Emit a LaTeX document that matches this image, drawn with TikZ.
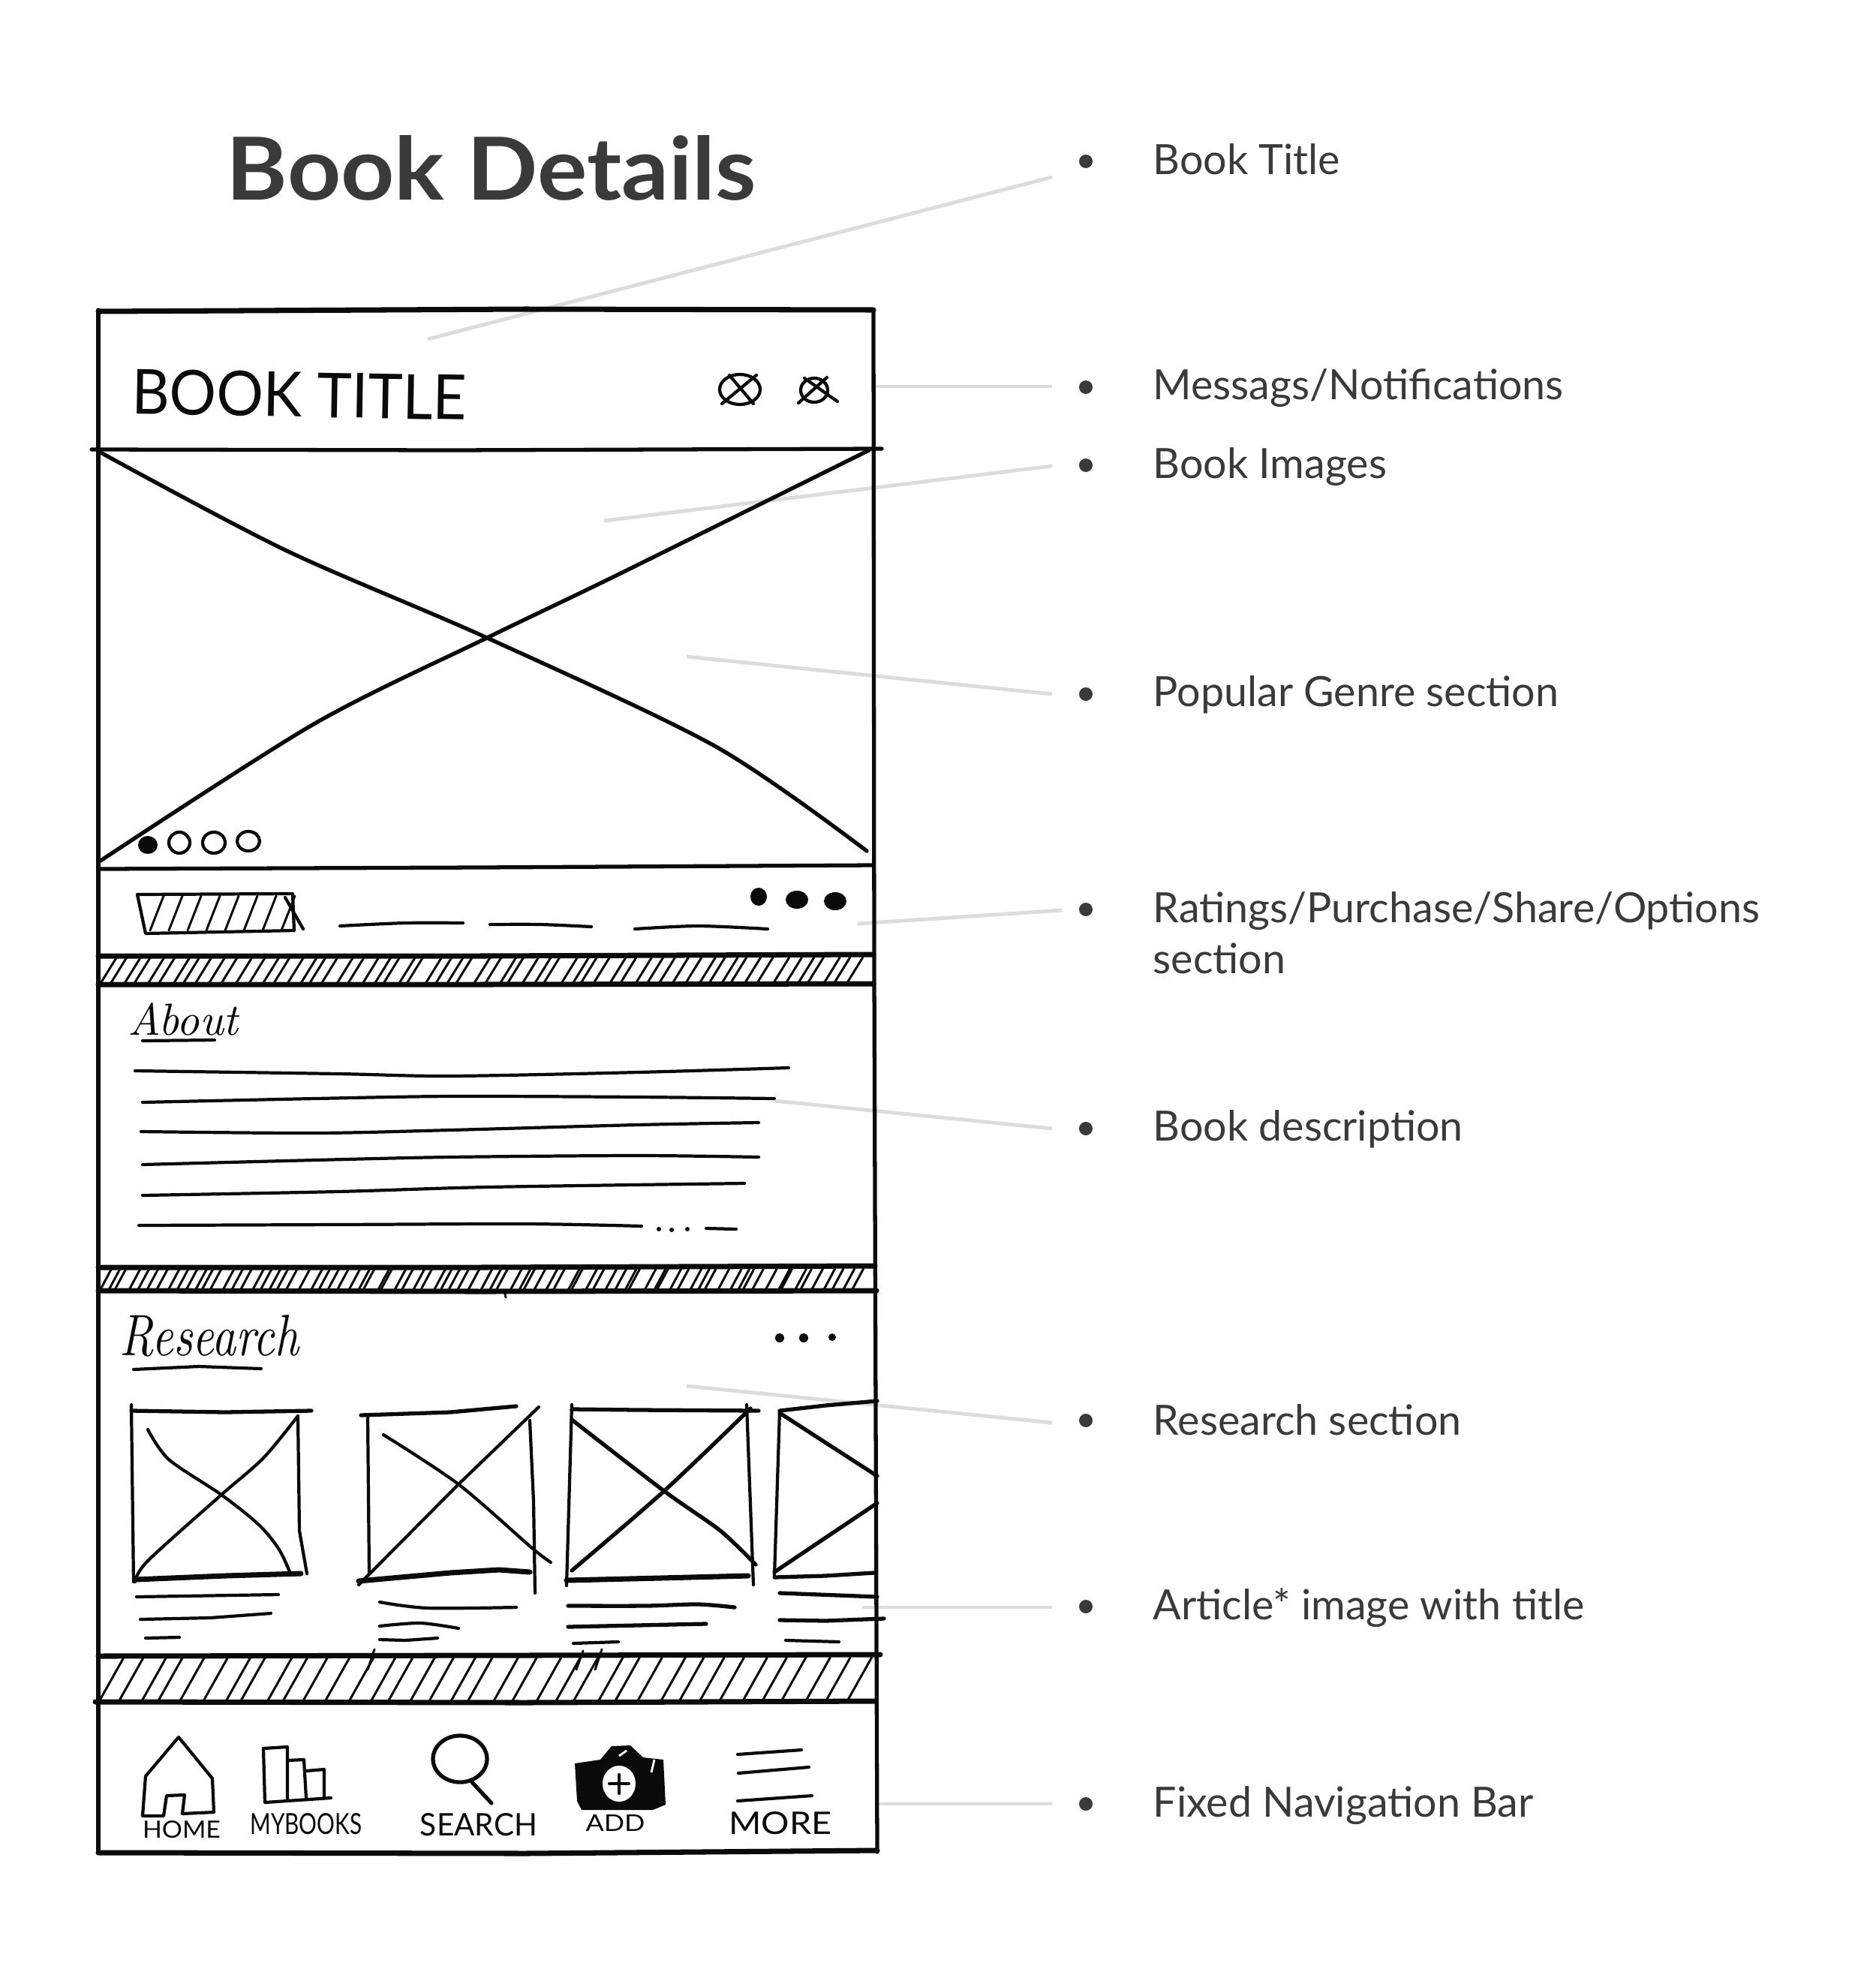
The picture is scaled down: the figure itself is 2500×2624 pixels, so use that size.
\documentclass[tikz,border=0pt]{standalone}
\usepackage{fontspec}
\usepackage{xcolor}
\newfontfamily\labelfont{Lato}
\newfontfamily\sketchfont{Lato}
\definecolor{cInk}{HTML}{0A0A0A}
\definecolor{cText}{HTML}{3A3A3A}
\definecolor{cLeader}{HTML}{DCDCDC}
\usetikzlibrary{calc}
\newdimen\pxu \pxu=0.01cm
\newcommand{\handtext}[3]{\resizebox{#1\pxu}{#2\pxu}{#3}}
\tikzset{
  frame-line/.style={draw=cInk,line width=1.5pt,line cap=round,line join=round},
  bold-line/.style={draw=cInk,line width=2pt,line cap=round,line join=round},
  pen-line/.style={draw=cInk,line width=1.2pt,line cap=round,line join=round},
  hatch-line/.style={draw=cInk,line width=0.85pt,line cap=round},
  leader/.style={draw=cLeader,line width=1.4pt},
  bullet-dot/.style={circle,fill=cText,inner sep=0pt,minimum size=18\pxu},
  item-label/.style={anchor=west,inner sep=0pt,text=cText,font=\labelfont\fontsize{15.8}{20}\selectfont},
  hand-label/.style={inner sep=0pt,text=cInk,font=\sketchfont},
}

\begin{document}
\begin{tikzpicture}[x=0.01cm,y=-0.01cm]
  \useasboundingbox (0,0) rectangle (2500,2624);
  \pgfmathsetseed{11}

  % bullets, labels and leaders
  \node[anchor=center,inner sep=0pt,text=cText,font=\labelfont\bfseries\fontsize{33}{36}\selectfont] (pageTitle) at (655,224) {\handtext{706}{86}{Book Details}};

  \node[bullet-dot] (dotTitle) at (1447,215) {};
  \node[bullet-dot] (dotMsg) at (1447,516) {};
  \node[bullet-dot] (dotImages) at (1447,620) {};
  \node[bullet-dot] (dotGenre) at (1447,925) {};
  \node[bullet-dot] (dotRatings) at (1447,1212) {};
  \node[bullet-dot] (dotDesc) at (1447,1504) {};
  \node[bullet-dot] (dotResearch) at (1447,1893) {};
  \node[bullet-dot] (dotArticle) at (1447,2141) {};
  \node[bullet-dot] (dotNav) at (1447,2404) {};

  \node[item-label] (lblTitle) at (1536,212) {Book Title};
  \node[item-label] (lblMsg) at (1536,517) {Messags/Notifications};
  \node[item-label] (lblImages) at (1536,622) {Book Images};
  \node[item-label] (lblGenre) at (1536,926) {Popular Genre section};
  \node[item-label] (lblRatings) at (1536,1214) {Ratings/Purchase/Share/Options};
  \node[item-label] (lblRatingsTwo) at (1536,1277) {section};
  \node[item-label] (lblDesc) at (1536,1505) {Book description};
  \node[item-label] (lblResearch) at (1536,1892) {Research section};
  \node[item-label] (lblArticle) at (1536,2143) {Article* image with title};
  \node[item-label] (lblNav) at (1536,2406) {Fixed Navigation Bar};

  \coordinate (endTitle) at (1402,236);
  \coordinate (tipTitle) at (570,452);
  \coordinate (endMsg) at (1402,515);
  \coordinate (tipMsg) at (1165,515);
  \coordinate (endImages) at (1402,621);
  \coordinate (tipImages) at (805,694);
  \coordinate (endGenre) at (1402,925);
  \coordinate (tipGenre) at (915,875);
  \coordinate (endRatings) at (1415,1213);
  \coordinate (tipRatings) at (1143,1231);
  \coordinate (endDesc) at (1402,1504);
  \coordinate (tipDesc) at (1032,1467);
  \coordinate (endResearch) at (1402,1896);
  \coordinate (tipResearch) at (915,1847);
  \coordinate (endArticle) at (1402,2142);
  \coordinate (tipArticle) at (1149,2142);
  \coordinate (endNav) at (1402,2404);
  \coordinate (tipNav) at (1171,2404);
  \foreach \nm in {Title,Msg,Images,Genre,Ratings,Desc,Research,Article,Nav}
    \draw[leader] (end\nm) -- (tip\nm);

  % phone outline and bars
  \draw[bold-line] (131,415) -- (700,412) -- (1164,413);
  \draw[frame-line] (131,413) -- (131,2468);
  \draw[frame-line] (1164,413) -- (1165,1300) -- (1169,2468);
  \draw[bold-line] (131,2469) -- (700,2470) -- (1169,2466);
  \draw[frame-line] (122,599) -- (600,600) -- (1175,598);
  \draw[frame-line] (134,1158) -- (640,1156) -- (1164,1153);

  % header
  \node[hand-label,rotate=-1] (bookTitle) at (399,526) {\handtext{446}{60}{BOOK TITLE}};
  \draw[pen-line] (986,519) ellipse (27 and 20);
  \draw[pen-line] (962,538) -- (1008,500) (972,500) -- (1004,538);
  \draw[pen-line] (1085,520) ellipse (18 and 16);
  \draw[pen-line] (1064,537) -- (1102,503) (1072,504) -- (1116,535);

  % big image cross
  \draw[frame-line] plot[smooth] coordinates {(134,603) (380,733) (649,850) (954,995) (1155,1134)};
  \draw[frame-line] plot[smooth] coordinates {(1158,600) (821,767) (649,850) (418,965) (134,1147)};
  \fill[cInk] (197,1126) ellipse (13 and 12);
  \draw[pen-line] (239,1123) ellipse (14 and 14);
  \draw[pen-line] (285,1123) ellipse (15 and 14);
  \draw[pen-line] (331,1121) ellipse (15 and 13);

  % ratings row
  \draw[pen-line] (183,1192) -- (390,1191) -- (392,1240) -- (194,1244) -- cycle;
  \draw[pen-line] (380,1196) -- (404,1238);
  \foreach \i in {0,...,7}
    \draw[hatch-line] (218+\i*25,1194) -- (200+\i*25,1240);
  \draw[pen-line] plot[smooth] coordinates {(453,1234) (540,1230) (617,1230)};
  \draw[pen-line] plot[smooth] coordinates {(653,1232) (720,1232) (788,1235)};
  \draw[pen-line] plot[smooth] coordinates {(846,1238) (930,1234) (1023,1238)};
  \fill[cInk] (1011,1195) ellipse (11 and 12);
  \fill[cInk] (1062,1199) ellipse (15 and 12);
  \fill[cInk] (1113,1201) ellipse (15 and 12);

  % first divider
  \draw[bold-line] (131,1274) -- (640,1274) -- (1164,1272);
  \draw[bold-line] (131,1312) -- (640,1312) -- (1164,1311);
  \foreach \i [evaluate=\i as \hx using {152+\i*16.6+5*rand}] in {0,...,60}
    \draw[hatch-line] (\hx,1276) -- (\hx-21,1310);

  % about block
  \node[hand-label,font=\itshape] (aboutLabel) at (244,1358) {\handtext{147}{43}{About}};
  \draw[pen-line] (190,1387) -- (286,1386);
  \draw[pen-line] plot[smooth] coordinates {(180,1427) (450,1431) (600,1434) (850,1429) (1051,1423)};
  \draw[pen-line] plot[smooth] coordinates {(190,1469) (420,1464) (600,1461) (850,1462) (1032,1464)};
  \draw[pen-line] plot[smooth] coordinates {(188,1508) (420,1510) (600,1506) (850,1499) (1011,1496)};
  \draw[pen-line] plot[smooth] coordinates {(190,1552) (420,1546) (600,1542) (850,1540) (1011,1542)};
  \draw[pen-line] plot[smooth] coordinates {(190,1593) (450,1588) (650,1582) (992,1577)};
  \draw[pen-line] plot[smooth] coordinates {(185,1633) (450,1632) (700,1631) (855,1634)};
  \fill[cInk] (878,1638) circle (3) (895,1639) circle (3) (916,1638) circle (3);
  \draw[pen-line] (941,1637) -- (981,1638);

  % second divider
  \draw[bold-line] (131,1689) -- (640,1689) -- (1166,1687);
  \draw[bold-line] (131,1720) -- (640,1721) -- (1168,1720);
  \foreach \i [evaluate=\i as \hx using {146+\i*12.7+5*rand}] in {0,...,79}
    \draw[hatch-line] (\hx,1691) -- (\hx-15,1719);
  \draw[hatch-line] (672,1720) -- (674,1729);

  % research block
  \node[hand-label,font=\itshape] (researchLabel) at (279,1780) {\handtext{238}{54}{Research}};
  \draw[pen-line] (178,1825) -- (265,1821) -- (348,1824);
  \fill[cInk] (1039,1783) circle (6) (1071,1783) circle (6) (1109,1782) circle (5);

  % thumbnail 1
  \draw[pen-line] (175,1872) -- (178,2108);
  \draw[frame-line] (175,1880) -- (300,1882) -- (415,1880);
  \draw[pen-line] (397,1887) -- (399,2040) -- (409,2097);
  \draw[bold-line] (180,2105) -- (300,2100) -- (401,2097);
  \draw[pen-line] plot[smooth] coordinates {(197,1905) (225,1945) (295,1992) (345,2032) (372,2065) (387,2097)};
  \draw[pen-line] plot[smooth] coordinates {(180,2108) (197,2080) (295,1992) (351,1943) (397,1887)};
  \draw[pen-line] (182,2128) -- (371,2125);
  \draw[pen-line] (187,2158) -- (280,2156) -- (361,2150);
  \draw[pen-line] (194,2183) -- (239,2182);

  % thumbnail 2
  \draw[pen-line] (490,1887) -- (492,2097);
  \draw[frame-line] (481,1886) -- (600,1882) -- (688,1874);
  \draw[pen-line] (706,1893) -- (711,2000) -- (713,2123);
  \draw[bold-line] (478,2107) -- (600,2096) -- (665,2092) -- (706,2095);
  \draw[pen-line] (478,2112) -- (611,1978) -- (718,1875);
  \draw[pen-line] plot[smooth] coordinates {(511,1912) (611,1978) (709,2063) (734,2082)};
  \draw[pen-line] plot[smooth] coordinates {(506,2135) (570,2143) (688,2142)};
  \draw[pen-line] plot[smooth] coordinates {(506,2167) (560,2163) (611,2170)};
  \draw[pen-line] (506,2185) -- (540,2186) -- (583,2183);

  % thumbnail 3
  \draw[pen-line] (762,1872) -- (755,2113);
  \draw[frame-line] (762,1878) -- (850,1879) -- (1011,1880);
  \draw[pen-line] (995,1872) -- (1004,2112);
  \draw[bold-line] (755,2106) -- (880,2103) -- (997,2100);
  \draw[frame-line] plot[smooth] coordinates {(762,1892) (885,1987) (960,2040) (1007,2085)};
  \draw[frame-line] plot[smooth] coordinates {(762,2093) (885,1987) (1000,1877)};
  \draw[frame-line] plot[smooth] coordinates {(757,2140) (860,2140) (930,2138) (979,2142)};
  \draw[frame-line] (757,2168) -- (941,2164);
  \draw[pen-line] (764,2190) -- (824,2188);

  % thumbnail 4
  \draw[pen-line] (1039,1880) -- (1032,2100);
  \draw[frame-line] (1039,1880) -- (1100,1873) -- (1169,1867);
  \draw[frame-line] (1032,2102) -- (1100,2100) -- (1165,2096);
  \draw[frame-line] (1039,1883) -- (1169,1967);
  \draw[frame-line] (1032,2095) -- (1169,2003);
  \draw[frame-line] (1039,2123) -- (1169,2128);
  \draw[frame-line] (1039,2159) -- (1100,2160) -- (1178,2157);
  \draw[pen-line] (1047,2186) -- (1118,2188);

  % third divider
  \draw[bold-line] (131,2207) -- (700,2206) -- (1173,2205);
  \draw[bold-line] (127,2268) -- (700,2269) -- (1165,2267);
  \foreach \i [evaluate=\i as \hx using {164+\i*27.6+5*rand}] in {0,...,36}
    \draw[hatch-line] (\hx,2209) -- (\hx-32,2266);
  \draw[hatch-line] (499,2198) -- (490,2225);
  \draw[hatch-line] (777,2200) -- (768,2225);
  \draw[hatch-line] (802,2198) -- (793,2225);

  % nav bar icons
  \draw[pen-line] (238,2315) -- (194,2367) -- (190,2420) -- (218,2420) -- (222,2393)
    -- (246,2392) -- (243,2417) -- (285,2415) -- (283,2370) -- cycle;
  \draw[pen-line] (351,2330) -- (383,2328) -- (383,2397);
  \draw[pen-line] (351,2330) -- (353,2402) -- (441,2396);
  \draw[pen-line] (383,2346) -- (405,2345) -- (408,2396);
  \draw[pen-line] (408,2360) -- (432,2358) -- (432,2396);
  \draw[frame-line] (613,2344) ellipse (36 and 31);
  \draw[frame-line] (629,2375) -- (655,2403);
  \fill[cInk] (766,2350) -- (800,2345) -- (815,2327) -- (840,2326) -- (857,2342) -- (884,2345)
    -- (887,2405) -- (870,2412) -- (775,2412) -- (769,2400) -- cycle;
  \fill[white] (825,2377) ellipse (22 and 24);
  \draw[pen-line] (812,2377) -- (838,2377) (825,2365) -- (825,2390);
  \draw[white,line width=0.8pt] (825,2340) -- (835,2333) (872,2345) -- (868,2362);
  \draw[pen-line] (983,2338) -- (1068,2332);
  \draw[pen-line] (984,2363) -- (1078,2355);
  \draw[pen-line] (983,2400) -- (1082,2393);

  \node[hand-label] (navHome) at (242,2438) {\handtext{104}{23}{HOME}};
  \node[hand-label] (navBooks) at (408,2431) {\handtext{149}{28}{MYBOOKS}};
  \node[hand-label] (navSearch) at (638,2432) {\handtext{156}{30}{SEARCH}};
  \node[hand-label] (navAdd) at (820,2429) {\handtext{79}{22}{ADD}};
  \node[hand-label] (navMore) at (1040,2430) {\handtext{137}{30}{MORE}};
\end{tikzpicture}
\end{document}
